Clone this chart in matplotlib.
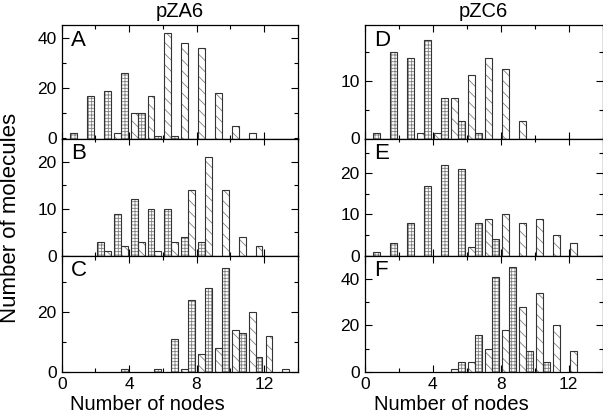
import matplotlib
matplotlib.use("Agg")
import matplotlib.pyplot as plt
from matplotlib.ticker import MultipleLocator
import numpy as np

plt.rcParams['font.family'] = ['Liberation Sans', 'DejaVu Sans']
plt.rcParams['hatch.linewidth'] = 0.6

# number of nodes (bin start), 0..13
bins = np.arange(14)

# pZA6 column
a_grid = [2, 17, 19, 26, 10, 1, 1, 0, 0, 0, 0, 0, 0, 0]
a_diag = [0, 0, 0, 2, 10, 17, 42, 38, 36, 18, 5, 2, 0, 0]
b_grid = [0, 0, 3, 9, 12, 10, 10, 4, 3, 0, 0, 0, 0, 0]
b_diag = [0, 0, 1, 2, 3, 1, 3, 14, 21, 14, 4, 2, 0, 0]
c_grid = [0, 0, 0, 1, 0, 1, 11, 24, 28, 35, 13, 5, 0, 0]
c_diag = [0, 0, 0, 0, 0, 0, 0, 1, 6, 8, 14, 20, 12, 1]

# pZC6 column
d_grid = [1, 15, 14, 17, 7, 3, 1, 0, 0, 0, 0, 0, 0, 0]
d_diag = [0, 0, 0, 1, 1, 7, 11, 14, 12, 3, 0, 0, 0, 0]
e_grid = [1, 3, 8, 17, 22, 21, 8, 4, 0, 0, 0, 0, 0, 0]
e_diag = [0, 0, 0, 0, 0, 0, 2, 9, 10, 8, 9, 5, 3, 0]
f_grid = [0, 0, 0, 0, 0, 4, 16, 41, 45, 9, 4, 0, 0, 0]
f_diag = [0, 0, 0, 0, 0, 1, 4, 10, 18, 28, 34, 20, 9, 0]

col_titles = ["pZA6", "pZC6"]
letters = ["A", "B", "C", "D", "E", "F"]

# panel: (grid, diag, grid slot, diag slot, ymax, major, minor)
LEFT, RIGHT = 0.30, 0.71
panels = [
    (a_grid, a_diag, RIGHT, LEFT, 45, 20, 10),
    (b_grid, b_diag, LEFT, RIGHT, 25, 10, 5),
    (c_grid, c_diag, RIGHT, LEFT, 39, 20, 10),
    (d_grid, d_diag, RIGHT, LEFT, 19.6, 10, 5),
    (e_grid, e_diag, RIGHT, LEFT, 28.4, 10, 5),
    (f_grid, f_diag, RIGHT, LEFT, 50, 20, 10),
]

W, H = 603, 418
fig = plt.figure(figsize=(W / 100, H / 100), dpi=100)

col_x = [(61.7, 235.9), (364.7, 238.0)]
row_y = [(25.3, 138.5), (138.5, 255.7), (255.7, 371.7)]

bw = 0.41
edge = "#333333"
hatch_col = "#808080"


def draw_bars(ax, x, vals, hatch):
    vals = np.asarray(vals)
    m = vals > 0
    ax.bar(x[m], vals[m], width=bw, color="white", edgecolor=hatch_col,
           linewidth=0, hatch=hatch, zorder=2)
    ax.bar(x[m], vals[m], width=bw, fill=False, edgecolor=edge,
           linewidth=0.8, zorder=3)


for i, (g, d, gs, ds, ymax, maj, mnr) in enumerate(panels):
    col, row = divmod(i, 3)
    x0, w = col_x[col]
    y0, y1 = row_y[row]
    ax = fig.add_axes([x0 / W, 1 - y1 / H, w / W, (y1 - y0) / H])
    draw_bars(ax, bins + ds, d, "\\\\\\")
    draw_bars(ax, bins + gs, g, "+++++")
    ax.set_xlim(0, 14)
    ax.set_ylim(0, ymax)
    ax.xaxis.set_major_locator(MultipleLocator(4))
    ax.xaxis.set_minor_locator(MultipleLocator(2))
    ax.yaxis.set_major_locator(MultipleLocator(maj))
    ax.yaxis.set_minor_locator(MultipleLocator(mnr))
    ax.tick_params(which="both", direction="in", top=True, right=True,
                   width=0.8, labelsize=12.5)
    ax.tick_params(which="major", length=5)
    ax.tick_params(which="minor", length=3)
    for s in ax.spines.values():
        s.set_linewidth(0.9)
    if row < 2:
        ax.tick_params(labelbottom=False)
    else:
        ax.set_xlabel("Number of nodes", fontsize=14.5)
        ax.xaxis.set_label_coords(0.365, -0.2)
    ax.text(0.04, 0.96, letters[i], transform=ax.transAxes, fontsize=16,
            va="top", ha="left")
    if row == 0:
        ax.set_title(col_titles[col], fontsize=14.5, pad=6)

fig.text(11 / W, 0.478, "Number of molecules", rotation=90,
         fontsize=16, va="center", ha="center")

fig.savefig("out.png", dpi=100)
